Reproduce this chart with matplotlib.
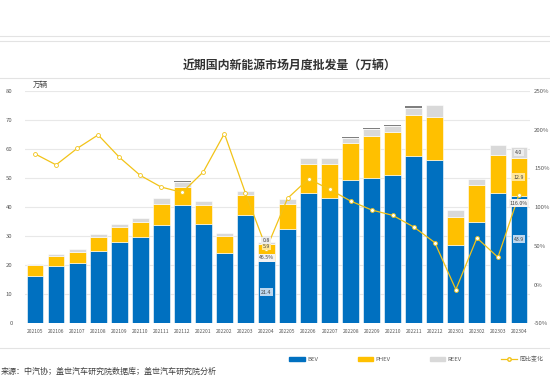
import numpy as np
import matplotlib.pyplot as plt
from matplotlib.lines import Line2D
from matplotlib.patches import Patch

plt.rcParams['font.family'] = ['Noto Sans CJK SC', 'DejaVu Sans']

months = ['202105', '202106', '202107', '202108', '202109', '202110', '202111', '202112',
          '202201', '202202', '202203', '202204', '202205', '202206', '202207', '202208',
          '202209', '202210', '202211', '202212', '202301', '202302', '202303', '202304']
bev = [16.3, 19.8, 20.6, 25.0, 28.1, 29.8, 34.0, 40.8, 34.3, 24.2, 37.2, 21.4,
       32.6, 44.8, 43.3, 49.3, 50.1, 51.0, 57.5, 56.2, 27.1, 34.9, 44.9, 43.9]
phev = [3.7, 3.5, 4.1, 4.7, 5.1, 5.2, 7.2, 6.3, 6.6, 6.0, 7.0, 5.9,
        8.4, 10.0, 11.7, 12.8, 14.5, 14.8, 14.3, 14.9, 9.6, 12.6, 13.0, 12.9]
reev = [0.3, 0.7, 0.8, 1.0, 0.9, 1.1, 1.8, 1.6, 1.2, 0.9, 1.4, 0.8,
        1.8, 2.1, 1.8, 1.6, 2.3, 2.2, 2.4, 4.0, 2.3, 2.3, 3.5, 4.0]
fcev = [0, 0, 0, 0, 0, 0, 0, 0.4, 0, 0, 0, 0,
        0, 0, 0, 0.3, 0.4, 0.4, 0.5, 0, 0, 0, 0, 0]
yoy = [168.8, 154.6, 175.8, 193.3, 164.6, 141.0, 125.9, 119.0, 145.6, 195.0, 118.2, 46.5,
       111.3, 136.6, 122.9, 107.9, 96.3, 89.4, 74.4, 54.2, -6.4, 60.2, 35.3, 116.0]

c_bev = '#0070C0'
c_phev = '#FFC000'
c_reev = '#D9D9D9'
c_fcev = '#7F7F7F'
c_line = '#F2C318'

fig = plt.figure(figsize=(5.5, 3.78), dpi=100)
ax = fig.add_axes([0.0455, 0.1447, 0.918, 0.6146])
ax2 = ax.twinx()

x = np.arange(len(months))
w = 0.8
b1 = np.array(bev)
b2 = b1 + np.array(phev)
b3 = b2 + np.array(reev)
ax.bar(x, bev, w, color=c_bev, edgecolor='white', linewidth=0.4, zorder=2)
ax.bar(x, phev, w, bottom=b1, color=c_phev, edgecolor='white', linewidth=0.4, zorder=2)
ax.bar(x, reev, w, bottom=b2, color=c_reev, edgecolor='white', linewidth=0.4, zorder=2)
ax.bar(x, fcev, w, bottom=b3, color=c_fcev, linewidth=0, zorder=2)

ax.set_xlim(-0.475, 23.52)
ax.set_ylim(0, 80)
ax.set_yticks(range(0, 81, 10))
ax.yaxis.grid(True, color='#E8E8E8', linewidth=0.8, zorder=0)
ax.set_axisbelow(True)
ax.set_xticks(x)
ax.set_xticklabels(months, fontsize=3.6, color='#595959')
ax.tick_params(axis='both', length=0, pad=4)
ax.tick_params(axis='y', labelsize=4.3, labelcolor='#595959', pad=9)
for s in ax.spines.values():
    s.set_visible(False)
ax.text(-0.1, 82, '万辆', fontsize=5.5, color='#404040', va='center', ha='left')

ax2.plot(x, yoy, color=c_line, linewidth=0.9, marker='o', markersize=2.8,
         markerfacecolor='white', markeredgecolor=c_line, markeredgewidth=0.6, zorder=3)
ax2.set_ylim(-50, 250)
ax2.set_yticks(range(-50, 251, 50))
ax2.set_yticklabels([f'{v}%' for v in range(-50, 251, 50)])
ax2.tick_params(axis='y', length=0, labelsize=4.3, labelcolor='#595959', pad=3)
for s in ax2.spines.values():
    s.set_visible(False)

# data labels
def lab(xx, yy, txt, fc, tr):
    ax2.text(xx, yy, txt, transform=tr, fontsize=3.8, color='#404040', ha='center', va='center',
             zorder=5, bbox=dict(boxstyle='square,pad=0.25', fc=fc, ec='none'))

tr1 = ax.transData
i = 11
lab(i, bev[i] / 2, f'{bev[i]}', '#BDD7EE', tr1)
lab(i, b2[i] - 0.9, f'{phev[i]}', '#FFE699', tr1)
lab(i, b3[i] + 0.4, f'{reev[i]}', '#EDEDED', tr1)
ax2.text(i, yoy[i] - 12, f'{yoy[i]}%', fontsize=3.8, color='#404040', ha='center', va='center',
         zorder=5, bbox=dict(boxstyle='square,pad=0.25', fc='#F2F2F2', ec='none'))
i = 23
lab(i, bev[i] * 0.66, f'{bev[i]}', '#BDD7EE', tr1)
lab(i, b1[i] + phev[i] / 2, f'{phev[i]}', '#FFE699', tr1)
lab(i, b2[i] + reev[i] / 2, f'{reev[i]}', '#EDEDED', tr1)
ax2.text(i, yoy[i] - 11, f'{yoy[i]}%', fontsize=3.8, color='#404040', ha='center', va='center',
         zorder=5, bbox=dict(boxstyle='square,pad=0.25', fc='#F2F2F2', ec='none'))

# title and frame lines
fig.text(0.526, 1 - 65 / 378, '近期国内新能源市场月度批发量（万辆）', fontsize=8.6, color='#333333',
         ha='center', va='center', weight='bold')
for yy in [36, 41, 78, 348]:
    fig.add_artist(Line2D([0, 1], [1 - yy / 378, 1 - yy / 378], color='#E3E3E3', linewidth=0.8))

handles = [Patch(color=c_bev, label='BEV'), Patch(color=c_phev, label='PHEV'),
           Patch(color=c_reev, label='REEV'),
           Line2D([0], [0], color=c_line, lw=0.9, marker='o', markersize=2.5,
                  markerfacecolor='white', label='同比变化')]
fig.legend(handles=handles, loc='center left', bbox_to_anchor=(284 / 550, 1 - 359 / 378),
           ncol=4, frameon=False, fontsize=4.3, handlelength=2.6, handleheight=0.6,
           columnspacing=6.6, handletextpad=0.4, labelcolor='#595959')

fig.text(0.002, 1 - 371 / 378, '来源：中汽协；盖世汽车研究院数据库；盖世汽车研究院分析', fontsize=5.8,
         color='#404040', ha='left', va='center')

fig.savefig('out.png', dpi=100)
